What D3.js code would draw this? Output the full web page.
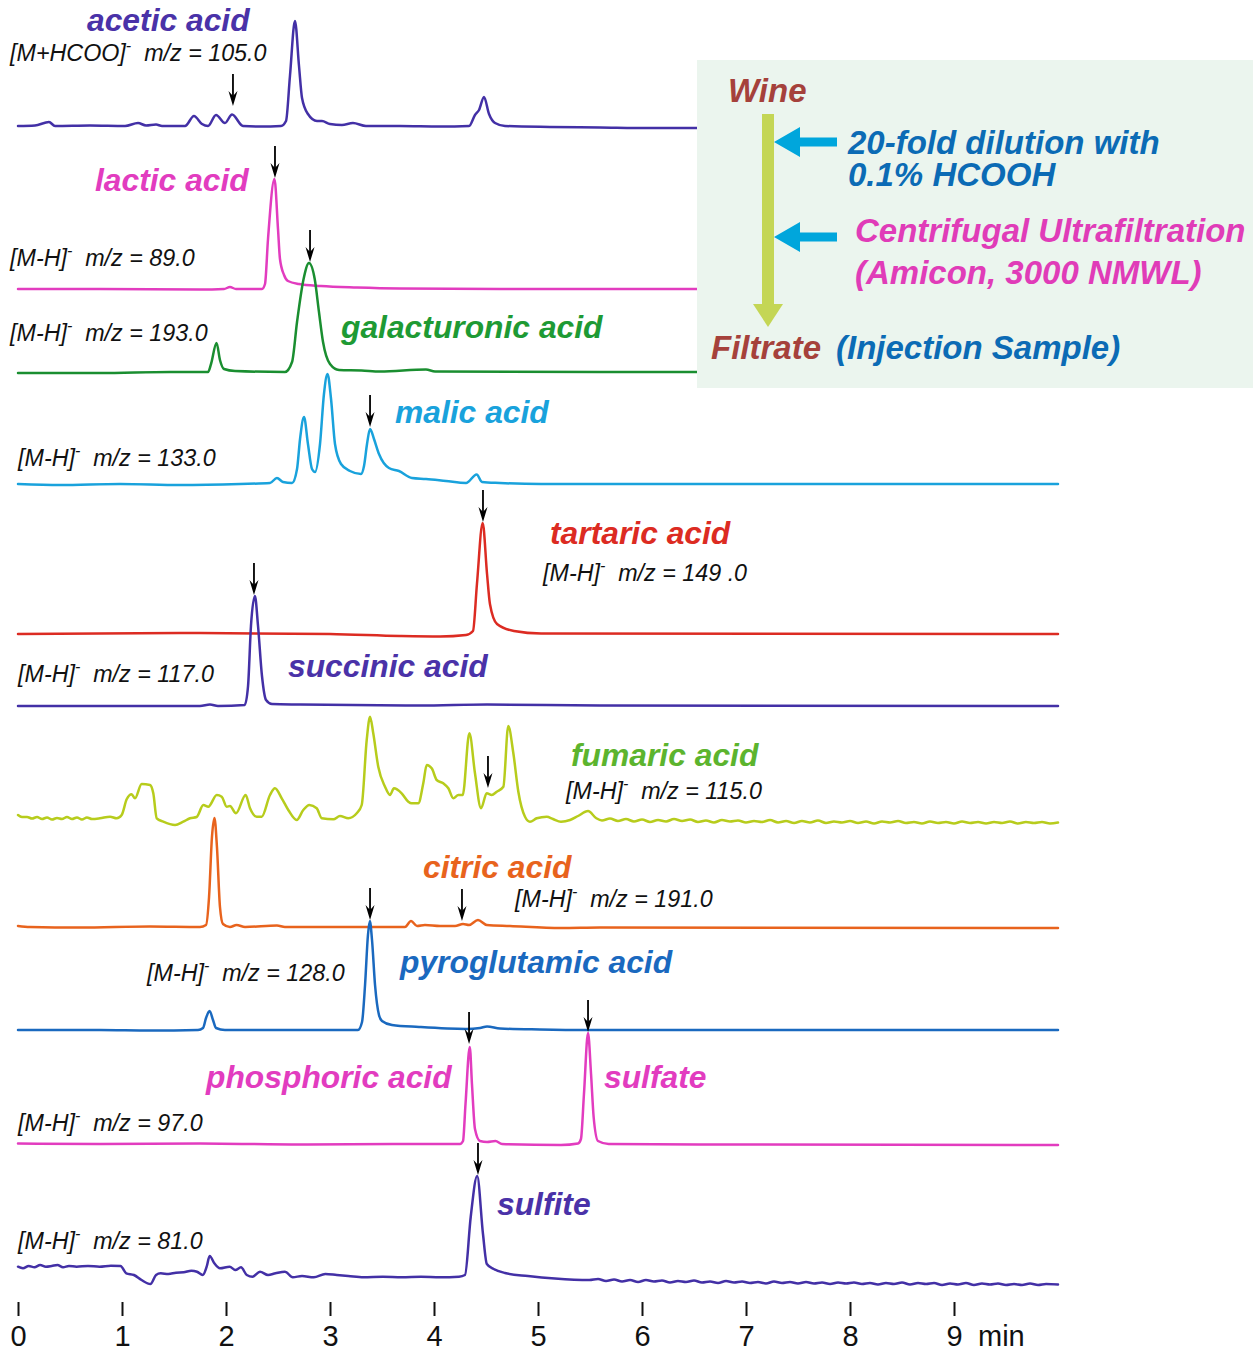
<!DOCTYPE html>
<html><head><meta charset="utf-8">
<script src="https://cdn.jsdelivr.net/npm/d3@7"></script>
<style>
body{margin:0;background:#fff}
svg{display:block}
text{font-family:"Liberation Sans",Arial,Helvetica,sans-serif}
</style>
</head><body>
<svg id="chart" width="1253" height="1352"></svg>
<script>
// ---------- DATA: [time (min), intensity (a.u.)] ----------
const compoundNames = ["acetic acid","lactic acid","galacturonic acid","malic acid","tartaric acid","succinic acid","fumaric acid","citric acid","pyroglutamic acid","phosphoric acid","sulfite"];
const ionPrefix = ["[M+HCOO]","[M-H]","[M-H]","[M-H]","[M-H]","[M-H]","[M-H]","[M-H]","[M-H]","[M-H]","[M-H]"];
const ionMz = ["105.0","89.0","193.0","133.0","149 .0","117.0","115.0","191.0","128.0","97.0","81.0"];
const timeTicks = [0,1,2,3,4,5,6,7,8,9];

const aceticAcid = [[0,0],[0.163,0.5],[0.298,4],[0.356,0],[0.692,0.5],[1.029,0],[1.154,3],[1.231,0.5],[1.327,1.5],[1.385,0],[1.606,0],[1.692,10],[1.769,2],[1.827,0],[1.904,11],[1.99,3],[2.058,11.5],[2.163,0],[2.327,-0.5],[2.529,0],[2.577,5],[2.615,50],[2.663,105],[2.702,60],[2.731,28],[2.788,12],[2.875,5],[2.923,5],[3.0,2],[3.115,1],[3.221,3],[3.346,0],[3.673,0],[4.058,-0.5],[4.337,0],[4.394,11],[4.433,16],[4.481,29],[4.529,12],[4.587,3],[4.683,0],[5.115,-1],[5.596,-1.5],[6.077,-2],[6.529,-2],[7.519,-2],[10,-2]];
const lacticAcid = [[0,0],[0.788,0],[1.75,-0.5],[1.981,0],[2.038,2],[2.096,0],[2.346,0],[2.375,5],[2.404,50],[2.466,110],[2.5,60],[2.519,30],[2.558,14],[2.596,8],[2.702,5],[2.913,3],[3.26,1.5],[3.673,0.5],[4.635,0],[10,0]];
const galacturonicAcid = [[0,-1],[0.788,-1],[1.462,0],[1.827,0],[1.856,8],[1.909,29],[1.942,12],[1.981,3],[2.087,1],[2.567,0],[2.635,10],[2.683,50],[2.746,93],[2.798,109],[2.853,93],[2.894,60],[2.933,30],[3.0,8],[3.087,2],[3.304,1.5],[3.481,0.5],[3.923,2.5],[4.01,0.5],[5.596,0],[10,0]];
const malicAcid = [[0,0],[0.404,-1],[0.981,0],[1.558,-1],[2.135,0],[2.423,1],[2.49,6],[2.548,2],[2.635,1],[2.683,15],[2.712,45],[2.75,67],[2.788,40],[2.827,15],[2.856,12],[2.904,40],[2.942,90],[2.976,110],[3.01,85],[3.048,40],[3.106,20],[3.192,13],[3.298,10],[3.327,18],[3.356,40],[3.385,55],[3.423,45],[3.471,30],[3.567,16],[3.663,13],[3.788,6],[3.923,5],[4.115,3],[4.308,1],[4.41,9.5],[4.462,2],[4.635,1],[5.029,0],[10,0]];
const tartaricAcid = [[0,0],[1.75,1],[3.0,0],[3.673,-2],[4.058,-2.5],[4.308,-1],[4.375,3],[4.413,50],[4.468,111],[4.51,60],[4.538,30],[4.606,10],[4.769,3],[5.029,0.5],[10,0]];
const succinicAcid = [[0,0],[1.75,0],[1.846,1.5],[1.923,0],[2.18,1],[2.212,20],[2.24,80],[2.278,110],[2.308,80],[2.346,30],[2.385,6],[2.442,2],[2.712,1.5],[3.865,0.5],[4.51,1.5],[5.596,0.5],[10,0]];
const fumaricAcid = [[0,5],[0.038,3],[0.087,3],[0.135,1.5],[0.183,3],[0.231,1],[0.279,2.5],[0.327,0.5],[0.375,2],[0.423,1],[0.471,3],[0.519,1],[0.567,2.5],[0.615,0.5],[0.663,2.5],[0.712,1],[0.788,1.7],[0.885,3.3],[0.949,1.7],[0.997,5],[1.045,20.7],[1.093,25.7],[1.125,21.7],[1.189,36],[1.269,35],[1.301,26.7],[1.334,1.7],[1.397,-1.7],[1.51,-5],[1.589,-1.7],[1.654,1.7],[1.718,3],[1.782,15],[1.83,13.3],[1.911,25],[1.959,23.3],[2.007,13.3],[2.038,14],[2.096,6.7],[2.189,25],[2.231,11.7],[2.295,3.3],[2.343,3.3],[2.423,25],[2.471,31.7],[2.536,21.7],[2.599,10],[2.68,0],[2.743,10],[2.801,15],[2.872,11.7],[2.921,1.7],[3.032,0.7],[3.096,4],[3.176,1.7],[3.257,6.7],[3.305,15],[3.353,80],[3.385,103.3],[3.416,86.7],[3.464,53.3],[3.529,33.3],[3.577,25],[3.615,31.7],[3.689,26.7],[3.753,18.3],[3.785,16.7],[3.849,16.7],[3.897,36.7],[3.93,55],[3.978,51.7],[4.026,40],[4.089,36.7],[4.138,31.7],[4.186,21.7],[4.234,25],[4.276,25],[4.34,86.7],[4.394,46.7],[4.452,11.7],[4.507,26.7],[4.555,25],[4.603,28.3],[4.667,33.3],[4.714,94],[4.763,66.7],[4.811,28.3],[4.875,3.3],[4.923,-1.7],[4.988,1.7],[5.084,3.3],[5.144,1],[5.221,-1.7],[5.308,0],[5.385,4],[5.481,9],[5.558,2],[5.615,-0.5],[5.692,1.5],[5.769,-1],[5.846,1],[5.923,-1.5],[6.0,0.5],[6.077,-2],[6.154,0],[6.231,-1.5],[6.308,1],[6.385,-1],[6.462,0.5],[6.538,-2],[6.615,-0.5],[6.692,-2.5],[6.769,0],[6.846,-1.5],[6.923,-0.5],[7.0,-2.5],[7.077,-1],[7.154,-2],[7.231,0],[7.308,-2.5],[7.385,-1],[7.462,-3],[7.538,-1],[7.615,-2.5],[7.692,-0.5],[7.769,-3],[7.846,-1.5],[7.923,-2.5],[8.0,-1],[8.077,-3],[8.154,-1.5],[8.231,-3.5],[8.308,-1.5],[8.385,-2.5],[8.462,-1],[8.538,-3],[8.615,-2],[8.692,-3.5],[8.769,-1.5],[8.846,-3],[8.923,-2],[9.0,-3.5],[9.077,-1.5],[9.154,-3],[9.231,-2],[9.308,-3.5],[9.385,-2],[9.462,-3],[9.538,-1.5],[9.615,-3.5],[9.692,-2],[9.769,-3],[9.846,-2],[9.923,-3.5],[10,-2.5]];
const citricAcid = [[0,1],[0.115,0],[0.596,-0.5],[1.269,0.5],[1.75,0],[1.808,2],[1.837,30],[1.865,90],[1.889,109],[1.913,80],[1.942,20],[1.971,3],[2.038,0],[2.102,2],[2.183,0],[2.49,1.5],[2.567,0],[3.192,0],[3.721,0],[3.779,6],[3.837,1],[3.913,2],[4.058,1],[4.202,1],[4.279,3],[4.337,2],[4.423,7],[4.507,2],[4.731,1],[5.221,-1],[5.596,-0.5],[10,-1]];
const pyroglutamicAcid = [[0,0],[0.788,0],[1.269,-0.5],[1.731,0],[1.779,2],[1.808,12],[1.842,19],[1.875,10],[1.904,2],[1.99,0],[2.519,0],[3.269,0],[3.308,8],[3.337,45],[3.365,95],[3.383,109],[3.404,90],[3.433,45],[3.471,15],[3.5,9],[3.596,5],[3.856,3],[4.308,1],[4.442,2],[4.51,3.5],[4.635,1.5],[5.019,0.5],[5.481,0],[10,0]];
const phosphateSulfate = [[0,0.5],[0.788,0],[1.75,0.5],[2.712,-0.5],[3.673,0],[4.25,0],[4.279,3],[4.303,40],[4.344,97],[4.365,60],[4.394,15],[4.442,3],[4.51,2],[4.591,3],[4.654,0],[5.221,-1],[5.385,0.5],[5.413,5],[5.442,50],[5.481,111],[5.51,70],[5.535,27],[5.577,3],[5.679,0],[6.558,-0.5],[10,-1]];
const sulfite = [[0,10.3],[0.048,8.7],[0.103,11],[0.158,9.7],[0.213,12],[0.268,10.3],[0.324,11],[0.379,12],[0.433,9.7],[0.49,11],[0.563,10.3],[0.673,11],[0.784,10.3],[0.894,11.3],[0.986,11],[1.041,3.7],[1.115,2],[1.188,-3],[1.273,-7],[1.327,2],[1.372,3.7],[1.446,3],[1.519,4.3],[1.593,4.7],[1.667,6.3],[1.721,5.3],[1.777,2],[1.814,10.3],[1.843,21],[1.888,13.7],[1.942,8.7],[2.035,10.3],[2.09,7],[2.144,9.7],[2.2,2],[2.256,0.3],[2.327,5.3],[2.404,2],[2.476,3.7],[2.567,5.3],[2.642,-0.3],[2.731,1],[2.844,-0.3],[2.955,3],[3.065,2],[3.176,1],[3.323,-0.3],[3.507,0.3],[3.69,-0.3],[3.875,0.3],[4.058,-0.3],[4.24,0.3],[4.298,2],[4.353,60],[4.415,101],[4.471,43],[4.508,13],[4.574,8],[4.683,4],[4.904,1],[5.163,-1.5],[5.494,-3],[5.577,-2],[5.654,-4],[5.731,-2.5],[5.808,-4.5],[5.885,-3],[5.962,-5],[6.038,-3],[6.115,-4.5],[6.192,-3.5],[6.269,-5.5],[6.346,-4],[6.423,-5],[6.5,-3.5],[6.577,-5.5],[6.654,-4.5],[6.731,-6],[6.808,-4],[6.885,-5.5],[6.962,-4.5],[7.038,-6],[7.115,-5],[7.192,-6.5],[7.269,-4.5],[7.346,-6],[7.423,-5],[7.5,-6.5],[7.577,-5],[7.654,-6.5],[7.731,-5.5],[7.808,-7],[7.885,-5.5],[7.962,-6.5],[8.038,-5.5],[8.115,-7],[8.192,-6],[8.269,-7.5],[8.346,-6],[8.423,-7],[8.5,-5.5],[8.577,-7.5],[8.654,-6],[8.731,-7],[8.808,-6],[8.885,-8],[8.962,-6.5],[9.038,-7.5],[9.115,-6],[9.192,-8],[9.269,-6.5],[9.346,-7.5],[9.423,-6.5],[9.5,-8],[9.577,-7],[9.654,-8],[9.731,-6.5],[9.808,-8],[9.885,-7],[10,-7.5]];

// marked peaks: [trace index, time, intensity at arrow tip]
const markedPeaks = [[0,2.067,20],[1,2.471,111],[2,2.808,110],[3,3.385,57],[4,4.471,112],[5,2.269,111],[6,4.519,32],[7,4.269,6],[8,3.385,110],[9,4.337,100],[9,5.481,112],[10,4.423,102]];

// flow-chart texts
const flowSteps = ["Wine","20-fold dilution with","0.1% HCOOH","Centrifugal Ultrafiltration","(Amicon, 3000 NMWL)","Filtrate","(Injection Sample)"];

// ---------- LAYOUT / STYLE ----------
const series = [aceticAcid,lacticAcid,galacturonicAcid,malicAcid,tartaricAcid,succinicAcid,fumaricAcid,citricAcid,pyroglutamicAcid,phosphateSulfate,sulfite];
const baselines = [126,289,372,484,634,706,820,927,1030,1144,1277];
const lineColors = ["#4330a6","#e23cbf","#1a8e30","#19a2dc","#dc2b22","#4330a6","#b7cc1c","#e8631d","#1a69bf","#e23cbf","#4330a6"];
const nameColors = ["#4a32a8","#e23cbf","#1e9a34","#19a2dc","#dc2b22","#4a32a8","#5cb42e","#e8631d","#1a69bf","#e23cbf","#4a32a8"];
const namePos = [[87,31],[95,191],[341,338],[395,423],[550,544],[288,677],[571,766],[423,878],[400,973],[206,1088],[497,1215]];
const ionPos = [[10,61],[10,266],[10,341],[18,466],[543,581],[18,682],[566,799],[515,907],[147,981],[18,1131],[18,1249]];

const svg = d3.select("#chart");
const x = d3.scaleLinear().domain([0,10]).range([18,1058]);
const yOff = d3.scaleLinear().domain([0,100]).range([0,-100]);
const line = d3.line().x(d=>x(d[0])).y(d=>yOff(d[1])).curve(d3.curveMonotoneX);

const traceG = svg.append("g");
series.forEach((s,i)=>{
  traceG.append("g").attr("transform",`translate(0,${baselines[i]})`)
    .append("path").attr("d",line(s)).attr("fill","none")
    .attr("stroke",lineColors[i]).attr("stroke-width",2.5)
    .attr("stroke-linejoin","round").attr("stroke-linecap","round");
});

// arrows
const arrowLen = 32;
markedPeaks.forEach(([ti,t,v])=>{
  const ax = x(t), tip = baselines[ti]+yOff(v);
  const g = svg.append("g");
  g.append("line").attr("x1",ax).attr("x2",ax).attr("y1",tip-arrowLen).attr("y2",tip-6)
    .attr("stroke","#000").attr("stroke-width",1.8);
  g.append("path").attr("d",`M${ax},${tip} L${ax-4.5},${tip-15} L${ax},${tip-10} L${ax+4.5},${tip-15} Z`)
    .attr("fill","#000");
});

// compound names
compoundNames.forEach((n,i)=>{
  svg.append("text").attr("x",namePos[i][0]).attr("y",namePos[i][1])
    .attr("font-size",31.8).attr("font-weight","bold").attr("font-style","italic")
    .attr("fill",nameColors[i]).text(n);
});
svg.append("text").attr("x",604).attr("y",1088).attr("font-size",31.8).attr("font-weight","bold")
  .attr("font-style","italic").attr("fill",nameColors[9]).text("sulfate");

// ion labels
ionPrefix.forEach((p,i)=>{
  const t = svg.append("text").attr("x",ionPos[i][0]).attr("y",ionPos[i][1])
    .attr("font-size",23.3).attr("font-style","italic").attr("fill","#111");
  t.append("tspan").text(p);
  t.append("tspan").attr("font-size",16).attr("dy",-10).text("-");
  t.append("tspan").attr("dy",10).text("\u00a0\u00a0m/z = "+ionMz[i]);
});

// axis
const axis = d3.axisBottom(x).tickValues(timeTicks).tickSize(14).tickPadding(9).tickFormat(d3.format("d"));
const axG = svg.append("g").attr("transform","translate(0,1302)").call(axis);
axG.select(".domain").remove();
axG.selectAll(".tick line").attr("stroke","#111").attr("stroke-width",2);
axG.selectAll(".tick text").attr("font-size",29).attr("fill","#111").attr("font-family","Liberation Sans, Arial, sans-serif");
svg.append("text").attr("x",978).attr("y",1346).attr("font-size",29).attr("fill","#111").text("min");

// flow box
const box = svg.append("g");
box.append("rect").attr("x",697).attr("y",60).attr("width",556).attr("height",328).attr("fill","#ebf5ee");
box.append("rect").attr("x",762).attr("y",114).attr("width",12).attr("height",192).attr("fill","#c4d655");
box.append("path").attr("d","M753,304 L783,304 L768,327 Z").attr("fill","#c4d655");
[142,237].forEach(cy=>{
  box.append("path").attr("d",`M774,${cy} L800,${cy-15} L800,${cy-4.5} L837,${cy-4.5} L837,${cy+4.5} L800,${cy+4.5} L800,${cy+15} Z`).attr("fill","#00a6dc");
});
const flowPos = [[728,102],[848,154],[848,186],[855,242],[855,284],[711,359],[836,359]];
const flowColors = ["#a5413b","#0b6bb5","#0b6bb5","#e03cb8","#e03cb8","#a5413b","#0b6bb5"];
flowSteps.forEach((s,i)=>{
  box.append("text").attr("x",flowPos[i][0]).attr("y",flowPos[i][1])
    .attr("font-size",33).attr("font-weight","bold").attr("font-style","italic")
    .attr("fill",flowColors[i]).text(s);
});
</script>
</body></html>
